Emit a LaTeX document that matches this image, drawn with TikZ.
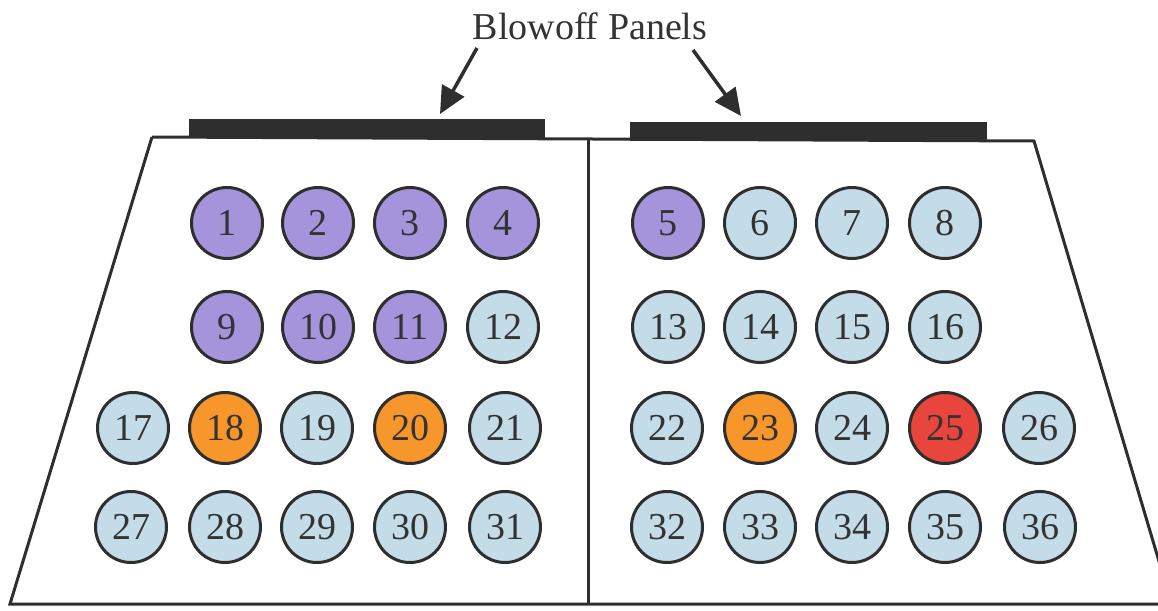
\documentclass[tikz,border=0pt]{standalone}
\usepackage{fontspec}
\setmainfont{Liberation Serif}
\usetikzlibrary{arrows.meta}
\definecolor{frameline}{HTML}{2E2E2E}
\definecolor{vpurple}{HTML}{A593DC}
\definecolor{vblue}{HTML}{C3DCE8}
\definecolor{vorange}{HTML}{F7962A}
\definecolor{vred}{HTML}{E8463C}
\tikzset{
  vent/.style={circle, draw=frameline, line width=3pt, minimum size=71pt, inner sep=0pt,
    font=\fontsize{38}{38}\selectfont, text=black!80},
  pv/.style={vent, fill=vpurple},
  bv/.style={vent, fill=vblue},
  ov/.style={vent, fill=vorange},
  rv/.style={vent, fill=vred},
  wall/.style={draw=frameline, line width=3pt},
  panel/.style={fill=frameline, draw=none, inner sep=0pt},
  pointer/.style={draw=frameline, fill=frameline, line width=3.5pt,
    -{Triangle[length=27pt,width=25pt]}}
}
\begin{document}
\begin{tikzpicture}[x=1pt,y=-1pt]
\useasboundingbox (0,0) rectangle (1158,610);
\clip (0,0) rectangle (1158,610);

% outline of the building
\draw[wall] (152,137) -- (1034,141) -- (1172,605);
\draw[wall] (152,137) -- (10,604) -- (1160,604);
\draw[wall] (588,140) -- (588,604);

% blowoff panels on the roof
\fill[panel] (189,119) rectangle (545,138);
\fill[panel] (630,122) rectangle (987,141);

% label and pointers
\node[font=\fontsize{38}{38}\selectfont, text=black!80] (title) at (590,26) {Blowoff Panels};
\coordinate (pl) at (440,114);
\coordinate (pr) at (741,116);
\draw[pointer] (477,48) -- (pl);
\draw[pointer] (693,50) -- (pr);

% row 1
\node[pv] (c1) at (227,223) {1};
\node[pv] (c2) at (318,223) {2};
\node[pv] (c3) at (410,223) {3};
\node[pv] (c4) at (503,223) {4};
\node[pv] (c5) at (668,223) {5};
\node[bv] (c6) at (760,223) {6};
\node[bv] (c7) at (852,223) {7};
\node[bv] (c8) at (945,223) {8};
% row 2
\node[pv] (c9) at (227,327) {9};
\node[pv] (c10) at (318,327) {10};
\node[pv] (c11) at (410,327) {11};
\node[bv] (c12) at (503,327) {12};
\node[bv] (c13) at (668,327) {13};
\node[bv] (c14) at (760,327) {14};
\node[bv] (c15) at (852,327) {15};
\node[bv] (c16) at (945,327) {16};
% row 3
\node[bv] (c17) at (133,428) {17};
\node[ov] (c18) at (225,428) {18};
\node[bv] (c19) at (317,428) {19};
\node[ov] (c20) at (410,428) {20};
\node[bv] (c21) at (505,428) {21};
\node[bv] (c22) at (667,428) {22};
\node[ov] (c23) at (760,428) {23};
\node[bv] (c24) at (852,428) {24};
\node[rv] (c25) at (945,428) {25};
\node[bv] (c26) at (1039,428) {26};
% row 4
\node[bv] (c27) at (131,527) {27};
\node[bv] (c28) at (225,527) {28};
\node[bv] (c29) at (317,527) {29};
\node[bv] (c30) at (410,527) {30};
\node[bv] (c31) at (505,527) {31};
\node[bv] (c32) at (667,527) {32};
\node[bv] (c33) at (760,527) {33};
\node[bv] (c34) at (852,527) {34};
\node[bv] (c35) at (945,527) {35};
\node[bv] (c36) at (1040,527) {36};
\end{tikzpicture}
\end{document}
